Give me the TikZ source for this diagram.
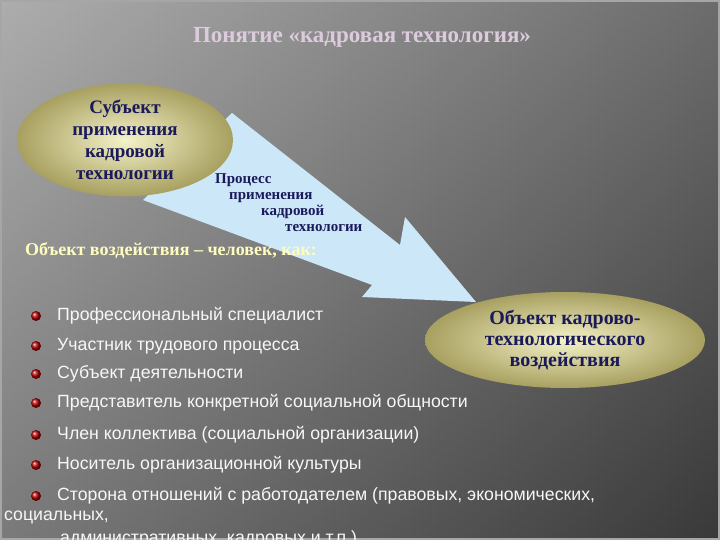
\documentclass[tikz,border=0pt]{standalone}
\usepackage{fontspec}
\setmainfont{Liberation Serif}
\newfontfamily\arialf{Liberation Sans}
\usetikzlibrary{shapes.geometric}
\definecolor{navy}{HTML}{1A1A5A}
\definecolor{olive1}{HTML}{F4F2C8}
\definecolor{olive2}{HTML}{A8A060}
\definecolor{skyb}{HTML}{CCE8F8}
\tikzset{
 oval/.style={ellipse,shading=radial,inner color=olive1,outer color=olive2,draw=none,text=navy,font=\bfseries,align=center,inner sep=0},
 item/.style={anchor=west,text=white!94!gray,font=\arialf\fontsize{17.7}{19}\selectfont,inner sep=0},
 dot/.style={circle,minimum size=10pt,inner sep=0,ball color=red!70!black},
}
\begin{document}
\begin{tikzpicture}[x=1pt,y=-1pt]
\useasboundingbox (0,0) rectangle (720,540);
\shade[left color=gray!80!white, right color=black!72] (0,0) rectangle (720,540);
\shade[top color=white,bottom color=black,opacity=0.2] (0,0) rectangle (720,540);
\draw[gray!70,line width=2pt] (1,1) rectangle (719,539);
\node[text=violet!15!white!85!gray,font=\bfseries\fontsize{23}{26}\selectfont] (title) at (362,37) {Понятие «кадровая технология»};
\fill[skyb] (232,113) -- (400,245) -- (405,217) -- (476,302) -- (362,297) -- (372,285) -- (143,200) -- cycle;
\node[oval,minimum width=216pt,minimum height=104pt,font=\bfseries\fontsize{19}{22}\selectfont] (subj) at (125,140) {Субъект\\применения\\кадровой\\технологии};
\node[text=navy,font=\bfseries\fontsize{15}{16}\selectfont,align=left,anchor=north west,inner sep=0] (proc) at (215,173) {Процесс\\\hspace*{14pt}применения\\\hspace*{46pt}кадровой\\\hspace*{70pt}технологии};
\node[oval,minimum width=280pt,minimum height=96pt,font=\bfseries\fontsize{20}{21}\selectfont] (obj) at (565,340) {Объект кадрово-\\технологического\\воздействия};
\node[anchor=west,inner sep=0,text=yellow!25!white,font=\bfseries\fontsize{18}{20}\selectfont] (head) at (25,251) {Объект воздействия – человек, как:};
\foreach \y/\t [count=\i] in {316/Профессиональный специалист,346/Участник трудового процесса,374/Субъект деятельности,403/Представитель конкретной социальной общности,435/Член коллектива (социальной организации),465/Носитель организационной культуры,496/{Сторона отношений с работодателем (правовых, экономических,}}{
 \node[dot] (d\i) at (36,\y) {};
 \node[item] (t\i) at (57,\y) {\t};
}
\node[item] (t8) at (4,517) {социальных,};
\node[item] (t9) at (60,539) {административных, кадровых и т.п.)};
\end{tikzpicture}
\end{document}
